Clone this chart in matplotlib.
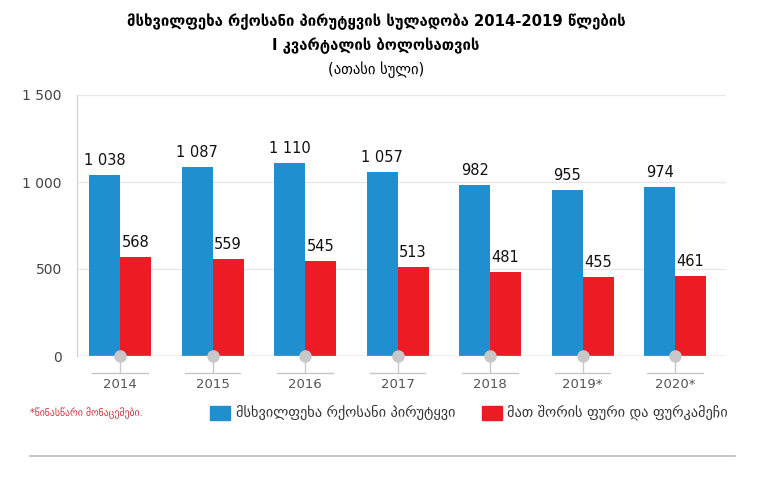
import numpy as np
import matplotlib.pyplot as plt
import matplotlib.patches as mpatches

plt.rcParams['font.family'] = ['DejaVu Sans']

years = ['2014', '2015', '2016', '2017', '2018', '2019*', '2020*']
cattle = [1038, 1087, 1110, 1057, 982, 955, 974]
cows = [568, 559, 545, 513, 481, 455, 461]

title_lines = ['მსხვილფეხა რქოსანი პირუტყვის სულადობა 2014-2019 წლების',
               'I კვარტალის ბოლოსათვის']
subtitle = '(ათასი სული)'
legend_labels = ['მსხვილფეხა რქოსანი პირუტყვი', 'მათ შორის ფური და ფურკამეჩი']
footnote = '*წინასწარი მონაცემები.'

BLUE = '#1F8FCF'
RED = '#ED1C24'
GRAY = '#C8C8C8'

W, H = 763, 483
fig = plt.figure(figsize=(W / 100, H / 100), dpi=100)

# axes box in pixel coords
left, right, top, bottom = 77, 726, 95, 356
ax = fig.add_axes([left / W, 1 - bottom / H, (right - left) / W, (bottom - top) / H])

x = np.arange(len(years))
bw = 0.335
ax.bar(x - bw / 2, cattle, width=bw, color=BLUE, zorder=2)
ax.bar(x + bw / 2, cows, width=bw, color=RED, zorder=2)

for xi, v in zip(x, cattle):
    ax.text(xi - bw / 2, v + 40, f'{v:,}'.replace(',', ' '), ha='center', va='bottom',
            fontsize=10.5, color='#111111')
for xi, v in zip(x, cows):
    ax.text(xi + bw / 2, v + 40, f'{v:,}'.replace(',', ' '), ha='center', va='bottom',
            fontsize=10.5, color='#111111')

ax.set_xlim(-0.465, 6.55)
ax.set_ylim(0, 1500)
ax.set_yticks([0, 500, 1000, 1500])
ax.set_yticklabels(['0', '500', '1 000', '1 500'], fontsize=10, color='#444444')
ax.tick_params(axis='y', length=0, pad=11)
ax.set_xticks([])
ax.grid(axis='y', color='#E6E6E6', linewidth=0.9, zorder=0)
for s in ['top', 'right', 'bottom']:
    ax.spines[s].set_visible(False)
ax.spines['left'].set_color('#D0D0D0')
ax.axhline(0, color='#C0C0C0', linewidth=1.0, zorder=3)

# custom x ticks: dot, stem, short bar, label
upp = 1500 / (bottom - top)  # data units per pixel
for xi, lab in zip(x, years):
    ax.plot([xi, xi], [0, -16 * upp], color=GRAY, lw=1, clip_on=False, zorder=1)
    ax.plot([xi - 0.3, xi + 0.3], [-17 * upp, -17 * upp], color=GRAY, lw=1, clip_on=False)
    ax.plot([xi], [0], 'o', color=GRAY, ms=8, clip_on=False, zorder=4)
    ax.text(xi, -28 * upp, lab, ha='center', va='center', fontsize=9.5, color='#555555')

# titles
fig.text(376 / W, 1 - 22 / H, title_lines[0], ha='center', va='center',
         fontsize=10.7, fontweight='bold')
fig.text(376 / W, 1 - 46 / H, title_lines[1], ha='center', va='center',
         fontsize=10.7, fontweight='bold')
fig.text(376 / W, 1 - 70 / H, subtitle, ha='center', va='center', fontsize=10.5)

# footnote and legend
fig.text(30 / W, 1 - 413 / H, footnote, ha='left', va='center', fontsize=7, color='#D0313A')
fig.patches.append(mpatches.Rectangle((210 / W, 1 - 420 / H), 20 / W, 14 / H,
                                      transform=fig.transFigure, color=BLUE))
fig.text(236 / W, 1 - 413 / H, legend_labels[0], ha='left', va='center', fontsize=10.3, color='#333333')
fig.patches.append(mpatches.Rectangle((482 / W, 1 - 420 / H), 20 / W, 14 / H,
                                      transform=fig.transFigure, color=RED))
fig.text(507 / W, 1 - 413 / H, legend_labels[1], ha='left', va='center', fontsize=10.3, color='#333333')

# bottom rule
fig.add_artist(plt.Line2D([30 / W, 735 / W], [1 - 456 / H, 1 - 456 / H],
                          transform=fig.transFigure, color='#BBBBBB', lw=1.2))

fig.savefig('out.png', dpi=100)
